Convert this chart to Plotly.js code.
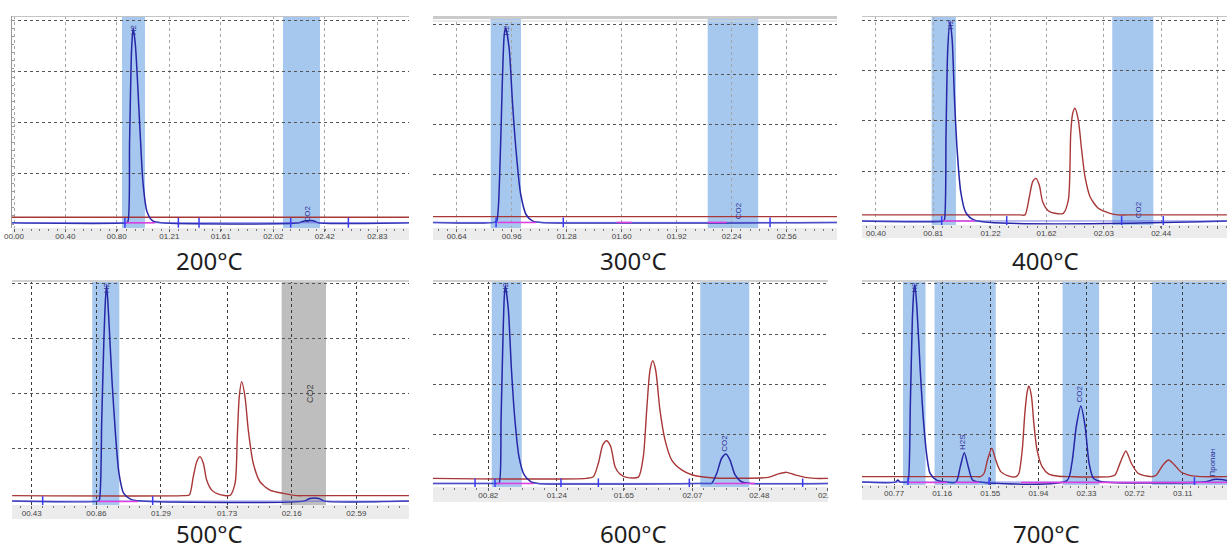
<!DOCTYPE html>
<html><head><meta charset="utf-8">
<script src="https://cdn.plot.ly/plotly-3.0.1.min.js"></script>
<style>html,body{margin:0;padding:0;background:#fff}#chart{width:1227px;height:551px}</style>
</head><body><div id="chart"></div>
<script>
// ---------- 200 °C ----------
const ticks200 = [0.00, 0.40, 0.80, 1.21, 1.61, 2.02, 2.42, 2.83];
const labels200 = ['00.00','00.40','00.80','01.21','01.61','02.02','02.42','02.83'];
const blue200T = [-0.02, 0.870, 0.886, 0.900, 0.916, 0.928, 0.945, 0.962, 0.982, 1.005, 1.036, 1.080, 1.15, 2.22, 2.27, 2.33, 2.37, 3.08];
const blue200V = [0.6, 0.6, 1, 40, 86, 96, 88, 70, 45, 20, 6, 1.5, 0.6, 0.6, 1.6, 1.6, 0.6, 0.6];
const red200T = [-0.02, 3.08];
const red200V = [3.3, 3.3];
const marks200 = [0.864, 1.280, 1.441, 2.155, 2.604];
const integ200 = [[0.864, 1.098]];
const zones200 = [[0.841, 1.020], [2.095, 2.383]];

// ---------- 300 °C ----------
const ticks300 = [0.64, 0.96, 1.28, 1.60, 1.92, 2.24, 2.56];
const labels300 = ['00.64','00.96','01.28','01.60','01.92','02.24','02.56'];
const blue300T = [0.50, 0.86, 0.873, 0.892, 0.905, 0.917, 0.925, 0.945, 0.965, 0.985, 1.012, 1.045, 1.085, 1.13, 2.86];
const blue300V = [0.8, 0.8, 1.5, 30, 70, 95, 98, 88, 60, 37, 15, 4.5, 1.3, 0.8, 0.8];
const red300T = [0.50, 2.86];
const red300V = [3.7, 3.7];
const marks300 = [0.869, 1.26, 2.463];
const integ300 = [[0.88, 1.10], [1.571, 1.658], [2.10, 2.21]];
const zones300 = [[0.838, 1.014], [2.100, 2.394]];

// ---------- 400 °C ----------
const ticks400 = [0.40, 0.81, 1.22, 1.62, 2.03, 2.44, 2.84];
const labels400 = ['00.40','00.81','01.22','01.62','02.03','02.44','02.84'];
const blue400T = [0.30, 0.88, 0.889, 0.901, 0.913, 0.929, 0.945, 0.962, 0.982, 1.006, 1.040, 1.10, 2.91];
const blue400V = [0.5, 0.5, 1, 44, 85, 99, 90, 60, 34, 15, 5, 1, 0.5];
const red400T = [0.30, 1.43, 1.466, 1.497, 1.521, 1.544, 1.568, 1.592, 1.632, 1.680, 1.740, 1.776, 1.793, 1.807, 1.823, 1.847, 1.871, 1.895, 1.931, 1.990, 2.074, 2.13, 2.20, 2.91];
const red400V = [3.5, 3.5, 3.5, 12.5, 20, 21.6, 18.3, 10, 5.6, 4.3, 4.3, 10.9, 43.9, 53.8, 56.3, 50.5, 35.6, 22.4, 12.5, 6.8, 4.3, 3.5, 3.5, 3.5];
const marks400 = [0.87, 1.335, 2.157, 2.455];
const integ400 = [[0.881, 1.108]];
const zones400 = [[0.798, 0.972], [2.090, 2.384]];

// ---------- 500 °C ----------
const ticks500 = [0.43, 0.86, 1.29, 1.73, 2.16, 2.59];
const labels500 = ['00.43','00.86','01.29','01.73','02.16','02.59'];
const blue500T = [0.30, 0.87, 0.880, 0.896, 0.911, 0.922, 0.929, 0.942, 0.965, 0.988, 1.010, 1.042, 1.090, 1.16, 2.24, 2.28, 2.34, 2.38, 2.94];
const blue500V = [1, 1, 1.5, 38, 76, 94, 99, 85, 55, 31, 14, 4.5, 1.8, 1, 1, 2.2, 2.2, 1, 1];
const red500T = [0.30, 1.44, 1.479, 1.505, 1.528, 1.550, 1.572, 1.594, 1.628, 1.672, 1.749, 1.783, 1.798, 1.811, 1.827, 1.849, 1.871, 1.904, 1.949, 2.015, 2.104, 2.193, 2.26, 2.94];
const red500V = [3.5, 3.5, 3.8, 12.1, 18.9, 21.2, 18.2, 10.6, 6, 4.2, 3.6, 9.1, 30.3, 48.5, 55.3, 48.5, 33.3, 18.2, 9.8, 6, 4.5, 3.5, 3.5, 3.5];
const marks500 = [0.503, 1.235];
const integ500 = [[0.871, 1.137]];
const zones500 = [[0.833, 1.013], [2.093, 2.388]];

// ---------- 600 °C ----------
const ticks600 = [0.82, 1.24, 1.65, 2.07, 2.48, 2.90];
const labels600 = ['00.82','01.24','01.65','02.07','02.48','02.90'];
const blue600T = [0.48, 0.87, 0.886, 0.898, 0.910, 0.918, 0.924, 0.942, 0.962, 0.983, 1.008, 1.040, 1.082, 1.125, 2.18, 2.188, 2.219, 2.249, 2.276, 2.300, 2.331, 2.372, 2.423, 2.90];
const blue600V = [0.8, 0.8, 0.8, 32.3, 73.7, 93.5, 99, 88, 57, 32.3, 14, 5, 1.6, 0.8, 0.8, 0.8, 5.8, 13.3, 15.4, 12.4, 5, 1.5, 0.8, 0.8];
const red600T = [0.48, 1.42, 1.463, 1.494, 1.521, 1.545, 1.570, 1.596, 1.626, 1.668, 1.739, 1.769, 1.790, 1.810, 1.827, 1.845, 1.871, 1.902, 1.943, 2.004, 2.066, 2.127, 2.208, 2.535, 2.596, 2.647, 2.698, 2.759, 2.820, 2.90];
const red600V = [3.3, 3.3, 4.1, 10.8, 19.9, 22, 19, 9.1, 5.5, 3.8, 3.9, 14, 37.3, 57, 61.7, 57, 37.3, 22.4, 12.4, 7.5, 5.1, 4.1, 3.5, 3.8, 5.5, 6.3, 5, 3.8, 3.3, 3.3];
const marks600 = [0.739, 0.861, 1.265, 1.494, 2.051, 2.745];
const integ600 = [[0.871, 1.096], [2.208, 2.453]];
const zones600 = [[0.841, 1.025], [2.118, 2.418]];

// ---------- 700 °C ----------
const ticks700 = [0.77, 1.16, 1.55, 1.94, 2.33, 2.72, 3.11];
const labels700 = ['00.77','01.16','01.55','01.94','02.33','02.72','03.11'];
const blue700T = [0.51, 0.78, 0.80, 0.82, 0.875, 0.883, 0.902, 0.918, 0.931, 0.939, 0.955, 0.982, 1.008, 1.036, 1.062, 1.115, 1.192, 1.272, 1.307, 1.339, 1.371, 1.406, 1.460, 2.171, 2.211, 2.247, 2.284, 2.319, 2.351, 2.386, 2.453, 3.30, 3.36, 3.42, 3.47];
const blue700V = [1.2, 1.2, 2.2, 1.2, 1.2, 1.2, 40.3, 81.8, 97, 99.3, 88, 57, 32, 14, 5.5, 2.2, 1.2, 1.2, 8.9, 15.8, 8.9, 2.2, 1.2, 1.9, 10.5, 28.8, 39, 28.8, 10.5, 3.1, 1.4, 1.4, 2.5, 2.5, 2];
const red700T = [0.51, 1.44, 1.470, 1.500, 1.527, 1.562, 1.594, 1.635, 1.702, 1.760, 1.782, 1.809, 1.830, 1.849, 1.863, 1.884, 1.903, 1.929, 1.970, 2.024, 2.104, 2.20, 2.52, 2.561, 2.601, 2.649, 2.694, 2.748, 2.829, 2.87, 2.896, 2.950, 2.995, 3.044, 3.097, 3.177, 3.258, 3.47];
const red700V = [3.9, 3.9, 3.9, 5.6, 12.2, 18, 12.2, 6.4, 4.2, 3.9, 5.6, 17.2, 35.4, 46.2, 49, 43.7, 30.4, 17.2, 8.9, 5.2, 4.1, 3.9, 3.9, 4.7, 10.5, 16.7, 10.5, 5.6, 4.1, 4.0, 4.7, 9.7, 12.2, 9.7, 6.2, 4.4, 3.9, 3.9];
const marks700 = [0.883, 1.540, 3.205];
const integ700 = [[0.875, 1.20], [1.27, 1.46], [1.80, 3.47]];
const zones700 = [[0.842, 1.025], [1.098, 1.594], [2.136, 2.432], [2.861, 3.50]];

// ---------- page geometry and styles ----------
const W = 1227, H = 551;
const fx = p => p / W;
const fy = p => 1 - p / H;

const ZONE_BLUE = '#a6c8ef';
const ZONE_GREY = '#bebebe';
const RED = '#a83838';
const BLUE = '#2626a6';
const BASE_BLUE = '#5e5ee0';
const MAGENTA = '#e040e0';
const MARK_BLUE = '#3a3af5';
const TAG_BLUE = '#303098';

// capAnchor: 'middle' places the caption centre at capY, 'bottom' rests it on the page edge
const panels = [
  { caption: '200°C', box: [12, 16, 409, 228], bandEnd: 240, xr: [-0.0156, 3.0763], yr: [-1.96, 101.96],
    ticks: ticks200, labels: labels200, blue: [blue200T, blue200V], red: [red200T, red200V],
    marks: marks200, markV: 0.6, integ: integ200, integV: 0.6, zones: zones200, zoneColors: [ZONE_BLUE, ZONE_BLUE],
    tags: [{ text: 'CO2', t: 2.282, v: 4.7 }], capY: 261, capX: 209, capAnchor: 'middle', top: 'thin', row: 0, leftAxis: true },
  { caption: '300°C', box: [433, 16, 837, 228], bandEnd: 240, xr: [0.5021, 2.8523], yr: [-2, 104],
    ticks: ticks300, labels: labels300, blue: [blue300T, blue300V], red: [red300T, red300V],
    marks: marks300, markV: 0.8, integ: integ300, integV: 0.8, zones: zones300, zoneColors: [ZONE_BLUE, ZONE_BLUE],
    tags: [{ text: 'CO2', t: 2.278, v: 6.5 }], capY: 261, capX: 633, capAnchor: 'middle', top: 'double', row: 0 },
  { caption: '400°C', box: [862, 16, 1227, 225], bandEnd: 238, xr: [0.2999, 2.9107], yr: [-1.49, 101.98],
    ticks: ticks400, labels: labels400, blue: [blue400T, blue400V], red: [red400T, red400V],
    marks: marks400, markV: 0.5, integ: integ400, integV: 0.5, zones: zones400, zoneColors: [ZONE_BLUE, ZONE_BLUE],
    tags: [{ text: 'CO2', t: 2.276, v: 5.9 }], capY: 261, capX: 1045, capAnchor: 'middle', top: 'thin', row: 0 },
  { caption: '500°C', box: [12, 280, 409, 505], bandEnd: 519, xr: [0.2989, 2.9403], yr: [-0.77, 101.5],
    ticks: ticks500, labels: labels500, blue: [blue500T, blue500V], red: [red500T, red500V],
    marks: marks500, markV: 1, integ: integ500, integV: 0.8, zones: zones500, zoneColors: [ZONE_BLUE, ZONE_GREY],
    tags: [{ text: 'CO2', t: 2.282, v: 49.7, color: '#404040', size: 9 }], capY: 551, capX: 209, capAnchor: 'bottom', top: 'bar', row: 1 },
  { caption: '600°C', box: [433, 280, 828, 487], bandEnd: 502, xr: [0.4814, 2.9001], yr: [-0.99, 101.84],
    ticks: ticks600, labels: labels600, blue: [blue600T, blue600V], red: [red600T, red600V],
    marks: marks600, markV: 0.8, integ: integ600, integV: 0.8, zones: zones600, zoneColors: [ZONE_BLUE, ZONE_BLUE],
    tags: [{ text: 'CO2', t: 2.269, v: 20.9 }], capY: 551, capX: 633, capAnchor: 'bottom', top: 'bar', row: 1 },
  { caption: '700°C', box: [862, 280, 1227, 485], bandEnd: 500, xr: [0.5099, 3.4689], yr: [-0.25, 101.74],
    ticks: ticks700, labels: labels700, blue: [blue700T, blue700V], red: [red700T, red700V],
    marks: marks700, markV: 1.2, integ: integ700, integV: 1.0, zones: zones700, zoneColors: [ZONE_BLUE, ZONE_BLUE, ZONE_BLUE, ZONE_BLUE],
    tags: [{ text: 'H2S', t: 1.326, v: 21 }, { text: 'CO2', t: 2.273, v: 45 }, { text: 'Пропан', t: 3.352, v: 10.7 }],
    capY: 551, capX: 1046, capAnchor: 'bottom', top: 'bar', row: 1 }
];

const traces = [];
const shapes = [];
const annotations = [];
const layout = {
  width: W, height: H, margin: { l: 0, r: 0, t: 0, b: 0 },
  paper_bgcolor: '#ffffff', plot_bgcolor: '#ffffff',
  showlegend: false, hovermode: false
};

panels.forEach((p, i) => {
  const n = i + 1;
  const xa = 'x' + (n > 1 ? n : '');
  const ya = 'y' + (n > 1 ? n : '');
  const xKey = 'xaxis' + (n > 1 ? n : '');
  const yKey = 'yaxis' + (n > 1 ? n : '');
  const [l, t, r, b] = p.box;
  const step = (p.ticks[p.ticks.length - 1] - p.ticks[0]) / (p.ticks.length - 1);

  layout[xKey] = {
    domain: [fx(l), fx(r)], anchor: ya, range: p.xr, fixedrange: true,
    tickmode: 'array', tickvals: p.ticks, ticktext: p.labels,
    ticks: 'outside', ticklen: 3, tickcolor: '#666', tickwidth: 1,
    tickfont: { family: 'Liberation Sans, Arial, sans-serif', size: 8, color: '#444' },
    ticklabelstandoff: -3,
    minor: { tick0: p.ticks[0], dtick: step / 6, ticks: 'outside', ticklen: 2, tickcolor: '#777', showgrid: false },
    showgrid: true, gridcolor: p.row === 0 ? '#a6a6a6' : '#3a3a3a', griddash: 'dot', gridwidth: 1,
    zeroline: false, showline: false
  };
  layout[yKey] = {
    domain: [fy(b), fy(t)], anchor: xa, range: p.yr, fixedrange: true,
    tickmode: 'array', tickvals: [25, 50, 75, 100], showticklabels: false,
    showgrid: true, gridcolor: '#555', griddash: 'dot', gridwidth: 1,
    zeroline: false,
    showline: !!p.leftAxis, linecolor: '#9a9a9a',
    ticks: p.leftAxis ? 'inside' : '', ticklen: 3, tickcolor: '#888',
    minor: p.leftAxis ? { dtick: 4, ticks: 'inside', ticklen: 2, tickcolor: '#999', showgrid: false } : undefined
  };

  // integration windows
  p.zones.forEach((z, k) => {
    shapes.push({ type: 'rect', xref: xa, yref: ya + ' domain', x0: z[0], x1: z[1], y0: 0, y1: 1,
      fillcolor: p.zoneColors[k], line: { width: 0 }, layer: 'below' });
  });

  // axis band under the plot area
  shapes.push({ type: 'rect', xref: 'paper', yref: 'paper', x0: fx(l), x1: fx(r), y0: fy(p.bandEnd), y1: fy(b),
    fillcolor: '#ececec', line: { width: 0 }, layer: 'below' });

  // frame tops
  if (p.top === 'thin') {
    shapes.push({ type: 'line', xref: 'paper', yref: 'paper', x0: fx(l), x1: fx(r), y0: fy(t + 0.5), y1: fy(t + 0.5),
      line: { color: '#c4c4c4', width: 1 }, layer: 'above' });
  } else if (p.top === 'double') {
    shapes.push({ type: 'rect', xref: 'paper', yref: 'paper', x0: fx(l), x1: fx(r), y0: fy(t + 3), y1: fy(t),
      fillcolor: '#cacaca', line: { width: 0 }, layer: 'above' });
    shapes.push({ type: 'line', xref: 'paper', yref: 'paper', x0: fx(l), x1: fx(r), y0: fy(t + 5), y1: fy(t + 5),
      line: { color: '#d6d6d6', width: 1 }, layer: 'above' });
  } else {
    shapes.push({ type: 'rect', xref: 'paper', yref: 'paper', x0: fx(l), x1: fx(r), y0: fy(t + 2), y1: fy(t),
      fillcolor: '#d2d2d2', line: { width: 0 }, layer: 'above' });
  }

  // red detector trace
  traces.push({ type: 'scatter', mode: 'lines', x: p.red[0], y: p.red[1], xaxis: xa, yaxis: ya,
    line: { color: RED, width: 1.4, shape: 'spline', smoothing: 0.7 } });
  // blue detector trace
  traces.push({ type: 'scatter', mode: 'lines', x: p.blue[0], y: p.blue[1], xaxis: xa, yaxis: ya,
    line: { color: BLUE, width: 1.5, shape: 'spline', smoothing: 0.7 } });
  // baseline under blue trace
  traces.push({ type: 'scatter', mode: 'lines', x: p.xr, y: [p.markV, p.markV], xaxis: xa, yaxis: ya,
    line: { color: BASE_BLUE, width: 1 }, opacity: 0.8 });
  // integration baselines
  p.integ.forEach(seg => {
    traces.push({ type: 'scatter', mode: 'lines', x: seg, y: [p.integV, p.integV], xaxis: xa, yaxis: ya,
      line: { color: MAGENTA, width: 1.5 } });
  });
  // peak start/end markers
  traces.push({ type: 'scatter', mode: 'markers', x: p.marks, y: p.marks.map(() => p.markV), xaxis: xa, yaxis: ya,
    marker: { symbol: 'line-ns', size: 7, line: { color: MARK_BLUE, width: 1.5 } } });

  // H2 tag on top of the tallest blue peak
  const bv = p.blue[1];
  const iMax = bv.indexOf(Math.max(...bv));
  annotations.push({ xref: xa, yref: ya, x: p.blue[0][iMax], y: bv[iMax], text: 'H2', textangle: -90,
    showarrow: false, xanchor: 'center', yanchor: 'middle', yshift: -2,
    font: { family: 'Liberation Sans, Arial, sans-serif', size: 8, color: TAG_BLUE } });
  p.tags.forEach(tg => {
    annotations.push({ xref: xa, yref: ya, x: tg.t, y: tg.v, text: tg.text, textangle: -90,
      showarrow: false, xanchor: 'center', yanchor: 'middle',
      font: { family: 'Liberation Sans, Arial, sans-serif', size: tg.size || 8, color: tg.color || TAG_BLUE } });
  });

  // temperature caption
  annotations.push({ xref: 'paper', yref: 'paper', x: fx(p.capX), y: fy(p.capY), text: p.caption,
    showarrow: false, xanchor: 'center', yanchor: p.capAnchor, borderpad: 0,
    font: { family: 'Noto Sans, Open Sans, sans-serif', size: 24, color: '#1e1e1e' } });
});

// the 600 °C axis strip is cut at its right edge
shapes.push({ type: 'rect', xref: 'paper', yref: 'paper', x0: fx(829), x1: fx(858), y0: fy(505), y1: fy(486),
  fillcolor: '#ffffff', line: { width: 0 }, layer: 'above' });

layout.shapes = shapes;
layout.annotations = annotations;

Plotly.newPlot('chart', traces, layout, { staticPlot: true, displayModeBar: false });
</script>
</body></html>
